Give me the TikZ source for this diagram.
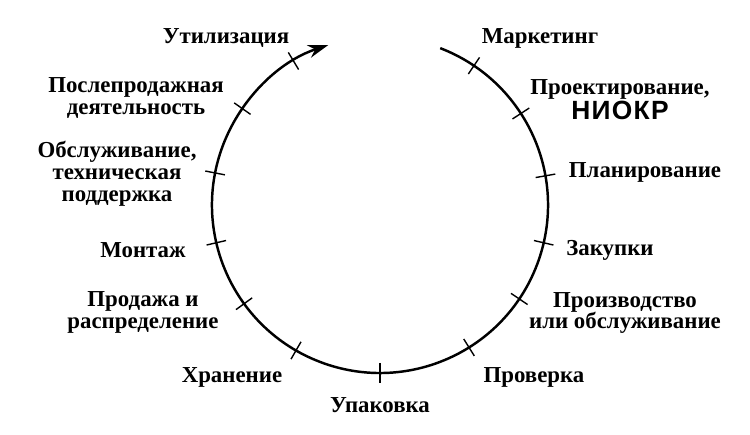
\documentclass[tikz,border=0pt]{standalone}
\usepackage{fontspec}
\setmainfont{Liberation Serif}
\newfontfamily\capsfont[LetterSpace=5,BoldFont={Liberation Sans Bold}]{Liberation Sans}
\usetikzlibrary{arrows.meta,calc,positioning}

\begin{document}
\begin{tikzpicture}[
    every node/.style={align=center},
    stage/.style={font=\fontsize{13}{12.5}\selectfont\bfseries, inner sep=1pt},
    cycleline/.style={line width=1.4pt, -{Stealth[length=4mm, width=2.6mm]}},
    tick/.style={line width=0.8pt}
]
\useasboundingbox (0,0) rectangle (15,8.7);

% Centre of the cycle
\coordinate (c) at (7.6,4.6);

% Life cycle curve
\draw[cycleline] ($(c)+(69:3.36)$) arc[start angle=69, end angle=-252, radius=3.36];

% Ticks on the curve
\foreach \a in {56,33,10,-13,-34,-58,-90,-120,-144,-167,169,145,121}
    \draw[tick] ($(c)+(\a:3.16)$) -- ($(c)+(\a:3.56)$);

% Stages, right side
\node[stage] (marketing) at (10.8,7.94) {Маркетинг};
\node[stage] (design) at (12.4,6.7) {Проектирование,\\{\capsfont\bfseries\fontsize{15}{14}\selectfont НИОКР}};
\node[stage] (planning) at (12.9,5.26) {Планирование};
\node[stage] (purchase) at (12.2,3.70) {Закупки};
\node[stage] (production) at (12.5,2.44) {Производство\\или обслуживание};
\node[stage] (inspection) at (10.68,1.16) {Проверка};

% Stages, bottom
\node[stage] (packing) at (7.6,0.60) {Упаковка};

% Stages, left side
\node[stage] (storage) at (4.64,1.16) {Хранение};
\node[stage] (sales) at (2.86,2.46) {Продажа и\\распределение};
\node[stage] (assembly) at (2.86,3.70) {Монтаж};
\node[stage] (service) at (2.34,5.22) {Обслуживание,\\техническая\\поддержка};
\node[stage] (aftersales) at (2.72,6.74) {Послепродажная\\деятельность};
\node[stage] (disposal) at (4.52,7.94) {Утилизация};

\end{tikzpicture}
\end{document}
